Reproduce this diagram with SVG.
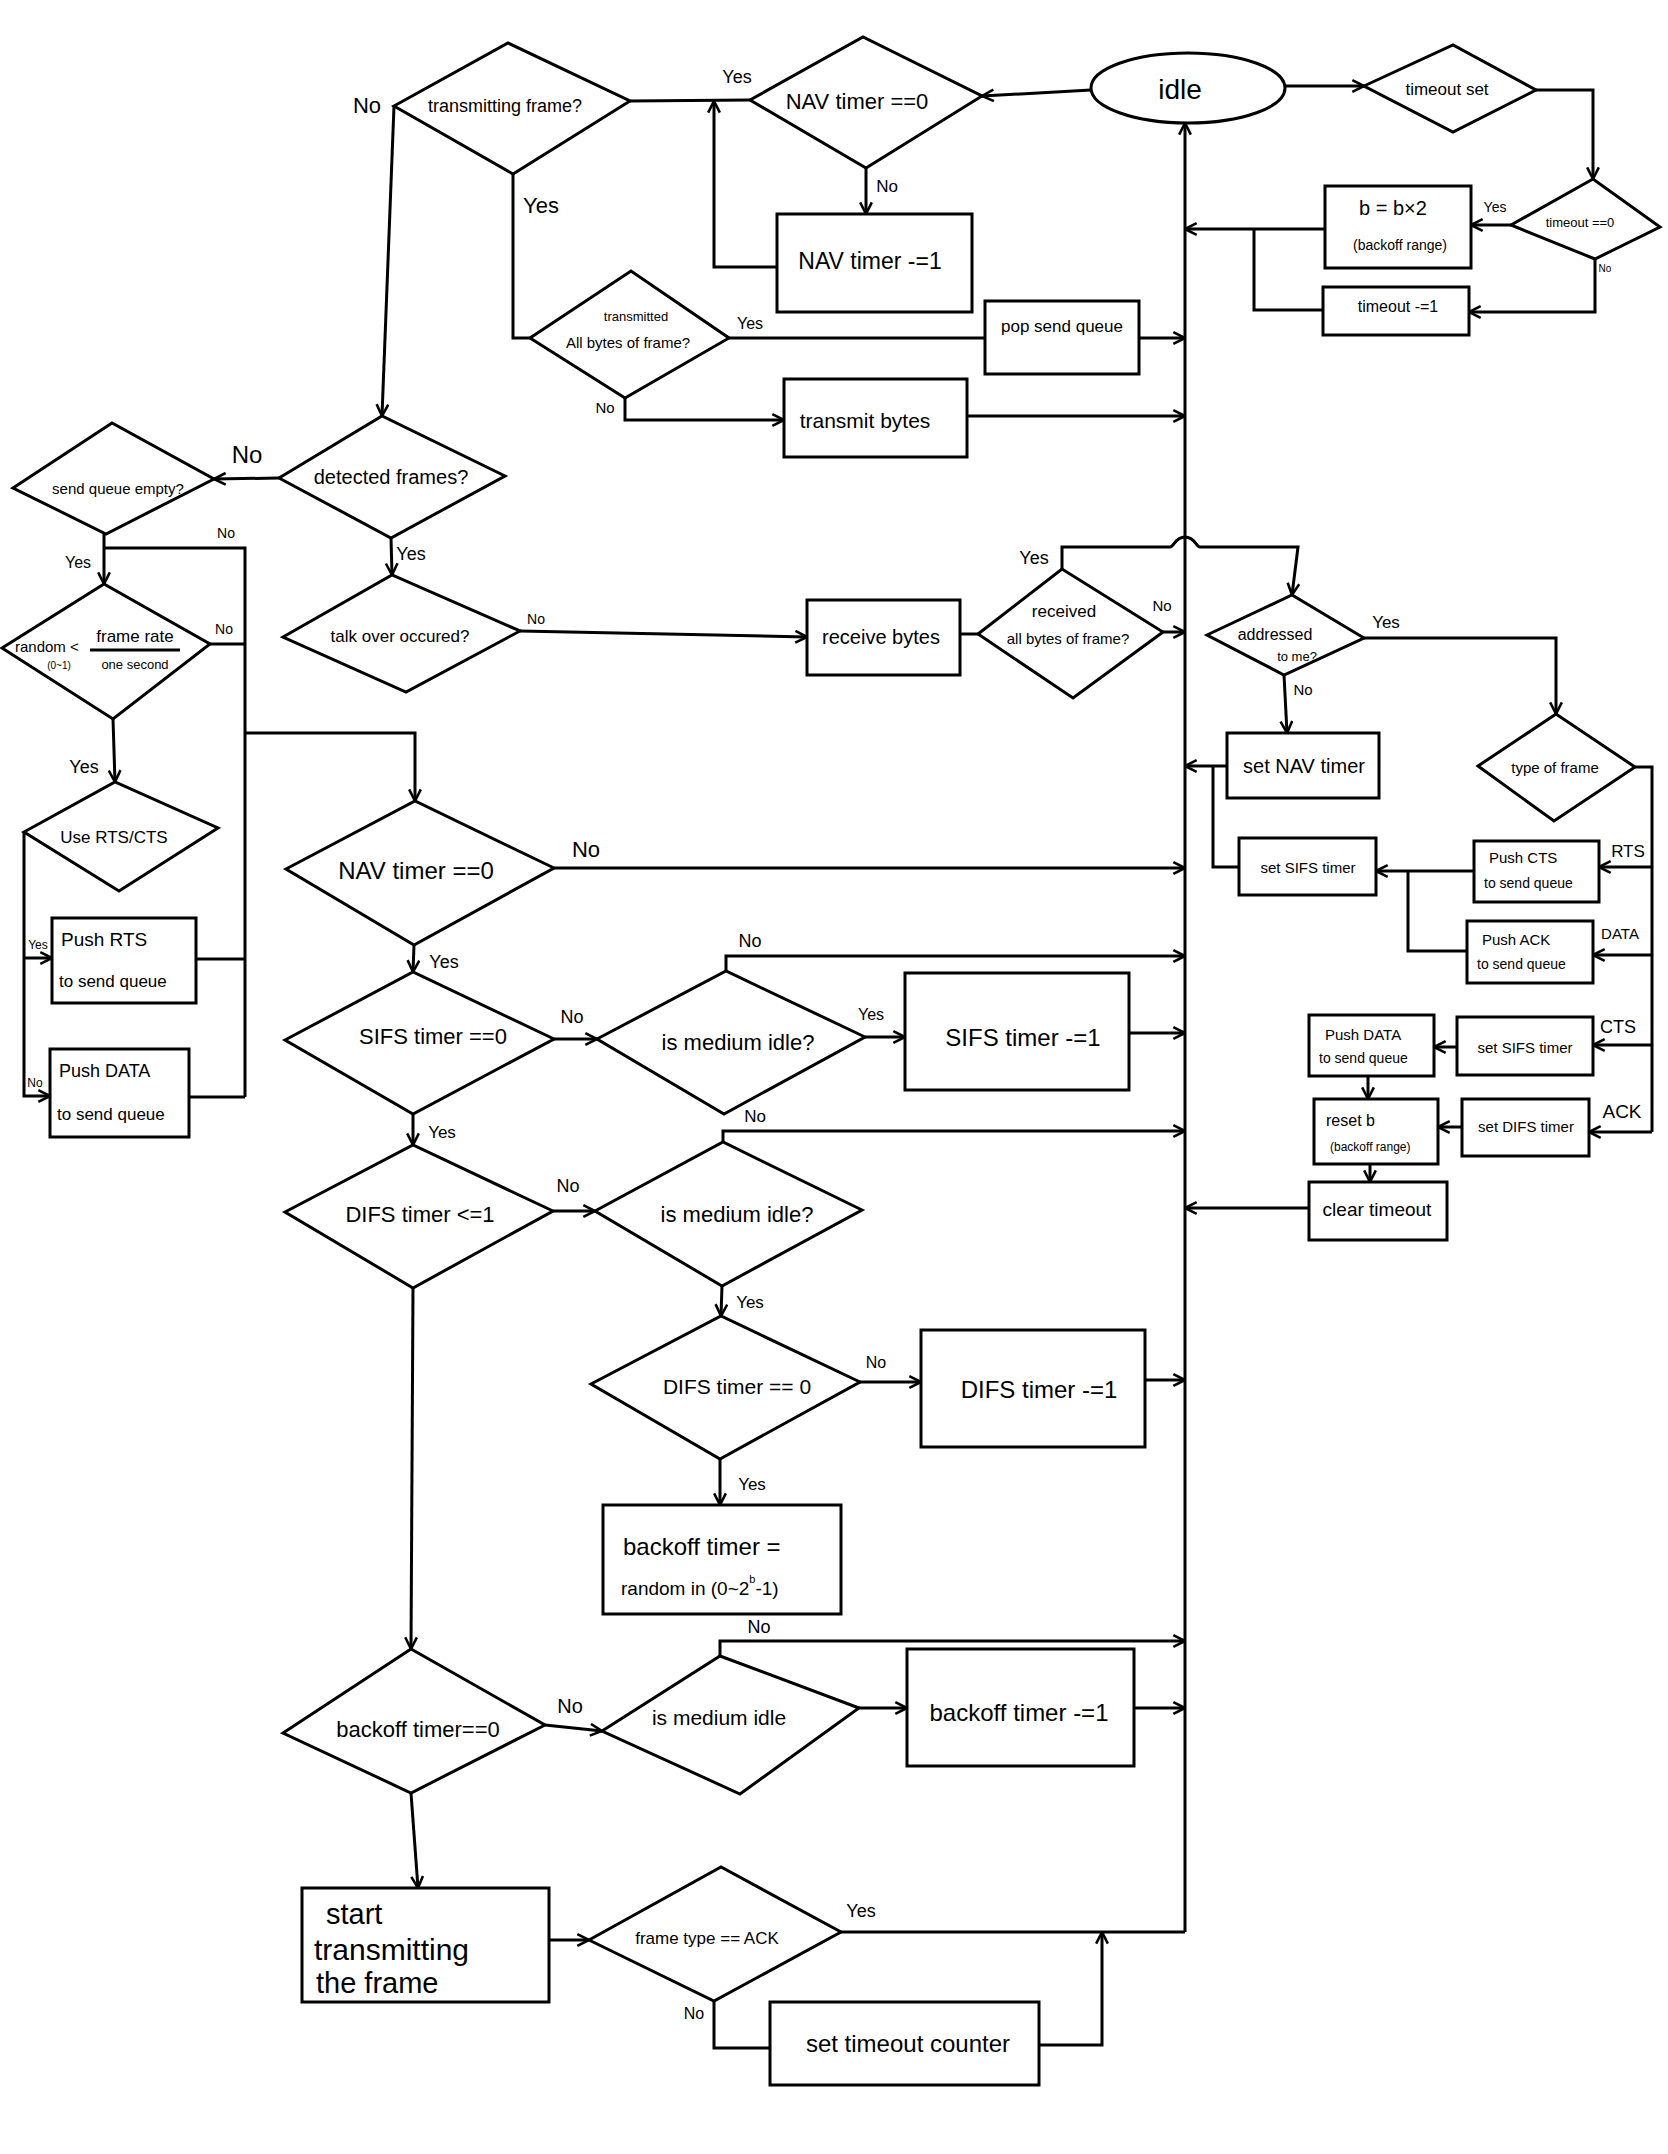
<svg xmlns="http://www.w3.org/2000/svg" width="1668" height="2154" viewBox="0 0 1668 2154">
<defs>
<marker id="a" viewBox="0 0 12 12" refX="11" refY="6" markerWidth="14" markerHeight="14" markerUnits="userSpaceOnUse" orient="auto"><path d="M1,1 L11,6 L1,11" fill="none" stroke="#000" stroke-width="2.2"/></marker>
<style>
.s{fill:#fff;stroke:#000;stroke-width:3}
.c{fill:none;stroke:#000;stroke-width:3}
.ca{fill:none;stroke:#000;stroke-width:3;marker-end:url(#a)}
text{font-family:"Liberation Sans",Arial,sans-serif;fill:#000;dominant-baseline:central}
.m{text-anchor:middle}
</style>
</defs>
<rect width="1668" height="2154" fill="#fff"/>

<g id="connectors">
<path class="ca" d="M1091,90 L982,96"/>
<path class="c" d="M750,100 L630,101"/>
<path class="ca" d="M866,168 V214"/>
<path class="ca" d="M777,267 H714 V101"/>
<path class="ca" d="M394,106 L382,416"/>
<path class="c" d="M513,174 V338 H530"/>
<path class="c" d="M729,338 H985"/>
<path class="ca" d="M1139,338 H1185"/>
<path class="ca" d="M625,398 V420 H784"/>
<path class="ca" d="M967,416 H1185"/>
<path class="ca" d="M1185,1932 V123"/>
<path class="ca" d="M1285,86 H1364"/>
<path class="ca" d="M1536,90 H1593 V179"/>
<path class="ca" d="M1511,225 H1471"/>
<path class="ca" d="M1325,229 H1185"/>
<path class="c" d="M1323,310 H1254 V229"/>
<path class="ca" d="M1595,259 V312 H1469"/>
<path class="ca" d="M279,478 L214,479"/>
<path class="ca" d="M391,538 L392,575"/>
<path class="ca" d="M104,534 V584"/>
<path class="c" d="M104,548 H245 V1097"/>
<path class="c" d="M210,644 H245"/>
<path class="ca" d="M113,719 L115,782"/>
<path class="ca" d="M24,832 V1096 H50"/>
<path class="ca" d="M24,958 H52"/>
<path class="c" d="M196,959 H245"/>
<path class="c" d="M189,1097 H245"/>
<path class="ca" d="M245,733 H415 V801"/>
<path class="ca" d="M520,631 L807,637"/>
<path class="c" d="M960,634 H978"/>
<path class="ca" d="M1163,632 H1185"/>
<path class="ca" d="M1062,569 V547 H1170 C1174,547 1175,537 1185,537 C1195,537 1196,547 1200,547 H1298 L1292,595"/>
<path class="ca" d="M1284,675 L1287,733"/>
<path class="ca" d="M1227,766 H1185"/>
<path class="c" d="M1239,867 H1213 V766"/>
<path class="ca" d="M1364,638 H1556 V714"/>
<path class="c" d="M1635,767 H1652 V1132"/>
<path class="ca" d="M1652,867 H1599"/>
<path class="ca" d="M1652,955 H1593"/>
<path class="ca" d="M1652,1045 H1593"/>
<path class="ca" d="M1652,1132 H1589"/>
<path class="ca" d="M1474,871 H1376"/>
<path class="c" d="M1467,951 H1408 V871"/>
<path class="ca" d="M1457,1047 H1434"/>
<path class="ca" d="M1368,1076 V1099"/>
<path class="ca" d="M1462,1127 H1438"/>
<path class="ca" d="M1370,1164 V1182"/>
<path class="ca" d="M1309,1208 H1185"/>
<path class="ca" d="M554,868 H1185"/>
<path class="ca" d="M414,945 L413,972"/>
<path class="ca" d="M554,1039 H597"/>
<path class="ca" d="M726,971 V956 H1185"/>
<path class="ca" d="M865,1037 H905"/>
<path class="ca" d="M1129,1033 H1185"/>
<path class="ca" d="M413,1114 V1145"/>
<path class="ca" d="M553,1211 H595"/>
<path class="ca" d="M723,1142 V1131 H1185"/>
<path class="ca" d="M722,1286 L721,1316"/>
<path class="ca" d="M860,1382 H921"/>
<path class="ca" d="M1145,1380 H1185"/>
<path class="ca" d="M720,1459 V1505"/>
<path class="ca" d="M413,1288 L411,1649"/>
<path class="ca" d="M545,1725 L602,1731"/>
<path class="ca" d="M720,1656 V1641 H1185"/>
<path class="ca" d="M859,1708 H907"/>
<path class="ca" d="M1134,1708 H1185"/>
<path class="ca" d="M411,1793 L418,1888"/>
<path class="ca" d="M549,1940 H589"/>
<path class="c" d="M841,1932 H1185"/>
<path class="c" d="M714,2001 V2048 H770"/>
<path class="ca" d="M1039,2045 H1102 V1932"/>
</g>

<g id="labels" font-size="18">
<text class="m" x="367" y="105" font-size="22">No</text>
<text class="m" x="541" y="205" font-size="22">Yes</text>
<text class="m" x="737" y="77" font-size="18">Yes</text>
<text class="m" x="887" y="186" font-size="17">No</text>
<text class="m" x="750" y="323" font-size="16">Yes</text>
<text class="m" x="605" y="407" font-size="15">No</text>
<text class="m" x="1495" y="207" font-size="14">Yes</text>
<text class="m" x="1605" y="268" font-size="10">No</text>
<text class="m" x="247" y="454" font-size="24">No</text>
<text class="m" x="226" y="533" font-size="14">No</text>
<text class="m" x="78" y="562" font-size="16">Yes</text>
<text class="m" x="224" y="629" font-size="14">No</text>
<text class="m" x="84" y="767" font-size="18">Yes</text>
<text class="m" x="38" y="945" font-size="12">Yes</text>
<text class="m" x="35" y="1083" font-size="12">No</text>
<text class="m" x="411" y="554" font-size="18">Yes</text>
<text class="m" x="536" y="619" font-size="14">No</text>
<text class="m" x="1034" y="558" font-size="18">Yes</text>
<text class="m" x="1162" y="605" font-size="15">No</text>
<text class="m" x="1386" y="622" font-size="17">Yes</text>
<text class="m" x="1303" y="689" font-size="15">No</text>
<text class="m" x="1628" y="851" font-size="17">RTS</text>
<text class="m" x="1620" y="933" font-size="15">DATA</text>
<text class="m" x="1618" y="1027" font-size="18">CTS</text>
<text class="m" x="1622" y="1111" font-size="19">ACK</text>
<text class="m" x="586" y="849" font-size="22">No</text>
<text class="m" x="444" y="962" font-size="18">Yes</text>
<text class="m" x="572" y="1017" font-size="18">No</text>
<text class="m" x="750" y="941" font-size="18">No</text>
<text class="m" x="871" y="1014" font-size="16">Yes</text>
<text class="m" x="442" y="1132" font-size="17">Yes</text>
<text class="m" x="568" y="1186" font-size="18">No</text>
<text class="m" x="755" y="1116" font-size="17">No</text>
<text class="m" x="750" y="1302" font-size="17">Yes</text>
<text class="m" x="876" y="1362" font-size="16">No</text>
<text class="m" x="752" y="1484" font-size="17">Yes</text>
<text class="m" x="759" y="1627" font-size="18">No</text>
<text class="m" x="570" y="1706" font-size="20">No</text>
<text class="m" x="861" y="1911" font-size="18">Yes</text>
<text class="m" x="694" y="2013" font-size="16">No</text>
</g>

<g id="n-idle"><ellipse class="s" cx="1188" cy="88" rx="97" ry="35"/><text class="m" x="1180" y="89" font-size="28">idle</text></g>
<g id="n-tx"><polygon class="s" points="394,106 508,43 630,101 513,174"/><text class="m" x="505" y="106" font-size="18">transmitting frame?</text></g>
<g id="n-nav1"><polygon class="s" points="750,100 863,37 982,96 866,168"/><text class="m" x="857" y="101" font-size="22">NAV timer ==0</text></g>
<g id="n-navdec"><rect class="s" x="777" y="214" width="195" height="98"/><text class="m" x="870" y="261" font-size="23">NAV timer -=1</text></g>
<g id="n-txall"><polygon class="s" points="530,338 631,271 729,338 625,398"/><text class="m" x="636" y="316" font-size="13">transmitted</text><text class="m" x="628" y="342" font-size="15">All bytes of frame?</text></g>
<g id="n-pop"><rect class="s" x="985" y="301" width="154" height="73"/><text class="m" x="1062" y="326" font-size="17">pop send queue</text></g>
<g id="n-txb"><rect class="s" x="784" y="379" width="183" height="78"/><text class="m" x="865" y="420" font-size="21">transmit bytes</text></g>
<g id="n-tset"><polygon class="s" points="1364,86 1453,45 1536,90 1453,132"/><text class="m" x="1447" y="89" font-size="17">timeout set</text></g>
<g id="n-t0"><polygon class="s" points="1511,225 1593,179 1660,227 1595,259"/><text class="m" x="1580" y="222" font-size="13">timeout ==0</text></g>
<g id="n-bx2"><rect class="s" x="1325" y="186" width="146" height="82"/><text class="m" x="1393" y="208" font-size="20">b = b×2</text><text class="m" x="1400" y="245" font-size="14">(backoff range)</text></g>
<g id="n-tdec"><rect class="s" x="1323" y="287" width="146" height="48"/><text class="m" x="1398" y="306" font-size="16">timeout -=1</text></g>
<g id="n-det"><polygon class="s" points="279,478 382,416 505,476 391,538"/><text class="m" x="391" y="477" font-size="20">detected frames?</text></g>
<g id="n-sqe"><polygon class="s" points="13,488 112,423 214,479 106,534"/><text class="m" x="118" y="488" font-size="15">send queue empty?</text></g>
<g id="n-rand"><polygon class="s" points="2,648 104,584 210,644 113,719"/><text x="15" y="646" font-size="15">random &lt;</text><text class="m" x="59" y="665" font-size="10">(0~1)</text><text class="m" x="135" y="636" font-size="17">frame rate</text><path class="c" d="M90,650 H180" stroke-width="2"/><text class="m" x="135" y="664" font-size="13">one second</text></g>
<g id="n-rts"><polygon class="s" points="24,832 115,782 218,828 119,891"/><text class="m" x="114" y="837" font-size="17">Use RTS/CTS</text></g>
<g id="n-prts"><rect class="s" x="52" y="918" width="144" height="85"/><text x="61" y="939" font-size="19">Push RTS</text><text x="59" y="981" font-size="17">to send queue</text></g>
<g id="n-pdata"><rect class="s" x="50" y="1049" width="139" height="88"/><text x="59" y="1071" font-size="18">Push DATA</text><text x="57" y="1114" font-size="17">to send queue</text></g>
<g id="n-talk"><polygon class="s" points="283,637 392,575 520,631 406,692"/><text class="m" x="400" y="636" font-size="17">talk over occured?</text></g>
<g id="n-recv"><rect class="s" x="807" y="600" width="153" height="75"/><text class="m" x="881" y="637" font-size="20">receive bytes</text></g>
<g id="n-rall"><polygon class="s" points="978,634 1062,569 1163,632 1073,698"/><text class="m" x="1064" y="611" font-size="17">received</text><text class="m" x="1068" y="638" font-size="15">all bytes of frame?</text></g>
<g id="n-addr"><polygon class="s" points="1207,635 1292,595 1364,638 1284,675"/><text class="m" x="1275" y="634" font-size="16">addressed</text><text class="m" x="1297" y="656" font-size="13">to me?</text></g>
<g id="n-setnav"><rect class="s" x="1227" y="733" width="152" height="65"/><text class="m" x="1304" y="766" font-size="20">set NAV timer</text></g>
<g id="n-setsifs1"><rect class="s" x="1239" y="838" width="137" height="57"/><text class="m" x="1308" y="867" font-size="15">set SIFS timer</text></g>
<g id="n-type"><polygon class="s" points="1478,766 1556,714 1635,767 1554,821"/><text class="m" x="1555" y="767" font-size="15">type of frame</text></g>
<g id="n-pcts"><rect class="s" x="1474" y="841" width="125" height="61"/><text x="1489" y="857" font-size="15">Push CTS</text><text x="1484" y="883" font-size="14">to send queue</text></g>
<g id="n-pack"><rect class="s" x="1467" y="921" width="126" height="62"/><text x="1482" y="939" font-size="15">Push ACK</text><text x="1477" y="964" font-size="14">to send queue</text></g>
<g id="n-setsifs2"><rect class="s" x="1457" y="1017" width="136" height="58"/><text class="m" x="1525" y="1047" font-size="15">set SIFS timer</text></g>
<g id="n-pdata2"><rect class="s" x="1309" y="1015" width="125" height="61"/><text x="1325" y="1034" font-size="15">Push DATA</text><text x="1319" y="1058" font-size="14">to send queue</text></g>
<g id="n-setdifs"><rect class="s" x="1462" y="1099" width="127" height="57"/><text class="m" x="1526" y="1126" font-size="15">set DIFS timer</text></g>
<g id="n-resetb"><rect class="s" x="1314" y="1099" width="124" height="65"/><text x="1326" y="1120" font-size="16">reset  b</text><text x="1330" y="1147" font-size="12">(backoff range)</text></g>
<g id="n-clr"><rect class="s" x="1309" y="1182" width="138" height="58"/><text class="m" x="1377" y="1209" font-size="19">clear timeout</text></g>
<g id="n-nav2"><polygon class="s" points="286,869 415,801 554,868 414,945"/><text class="m" x="416" y="870" font-size="24">NAV timer ==0</text></g>
<g id="n-sifs0"><polygon class="s" points="285,1040 413,972 554,1039 413,1114"/><text class="m" x="433" y="1036" font-size="22">SIFS timer ==0</text></g>
<g id="n-mi1"><polygon class="s" points="597,1039 726,971 865,1037 724,1114"/><text class="m" x="738" y="1042" font-size="22">is medium idle?</text></g>
<g id="n-sifsdec"><rect class="s" x="905" y="973" width="224" height="117"/><text class="m" x="1023" y="1037" font-size="24">SIFS timer -=1</text></g>
<g id="n-difs1"><polygon class="s" points="285,1212 413,1145 553,1211 413,1288"/><text class="m" x="420" y="1214" font-size="22">DIFS timer &lt;=1</text></g>
<g id="n-mi2"><polygon class="s" points="595,1211 723,1142 862,1210 722,1286"/><text class="m" x="737" y="1214" font-size="22">is medium idle?</text></g>
<g id="n-difs0"><polygon class="s" points="591,1384 721,1316 860,1382 720,1459"/><text class="m" x="737" y="1386" font-size="21">DIFS timer == 0</text></g>
<g id="n-difsdec"><rect class="s" x="921" y="1330" width="224" height="117"/><text class="m" x="1039" y="1389" font-size="24">DIFS timer -=1</text></g>
<g id="n-boset"><rect class="s" x="603" y="1505" width="238" height="109"/><text x="623" y="1546" font-size="24">backoff timer =</text><text x="621" y="1588" font-size="19">random in (0~2<tspan dy="-9" font-size="11">b</tspan><tspan dy="9">-1)</tspan></text></g>
<g id="n-bo0"><polygon class="s" points="283,1733 411,1649 545,1725 411,1793"/><text class="m" x="418" y="1729" font-size="22">backoff timer==0</text></g>
<g id="n-mi3"><polygon class="s" points="602,1731 720,1656 859,1708 740,1794"/><text class="m" x="719" y="1717" font-size="21">is medium idle</text></g>
<g id="n-bodec"><rect class="s" x="907" y="1649" width="227" height="117"/><text class="m" x="1019" y="1712" font-size="24">backoff timer -=1</text></g>
<g id="n-start"><rect class="s" x="302" y="1888" width="247" height="114"/><text x="326" y="1914" font-size="29">start</text><text x="314" y="1949" font-size="30">transmitting</text><text x="316" y="1983" font-size="29">the frame</text></g>
<g id="n-ftype"><polygon class="s" points="589,1940 721,1867 841,1932 714,2001"/><text class="m" x="707" y="1938" font-size="17">frame type == ACK</text></g>
<g id="n-tocnt"><rect class="s" x="770" y="2002" width="269" height="83"/><text class="m" x="908" y="2043" font-size="24">set timeout counter</text></g>
</svg>
